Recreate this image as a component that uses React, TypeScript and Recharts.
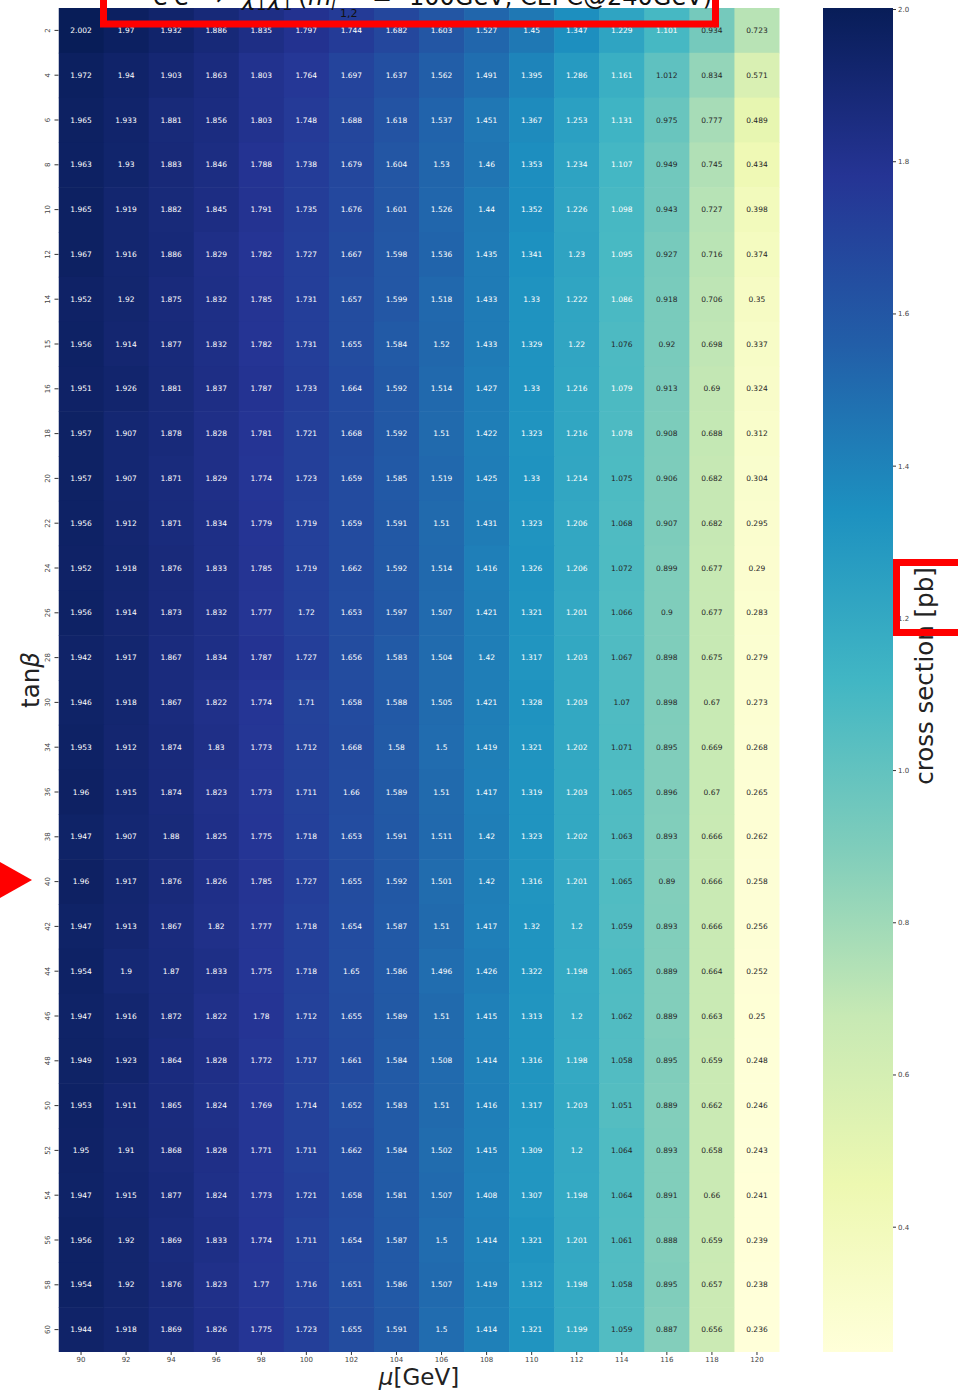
import React from 'react';
import { ScatterChart, Scatter, XAxis, YAxis, ComposedChart, ReferenceArea } from 'recharts';

// ---------- data ----------
const MU = [90, 92, 94, 96, 98, 100, 102, 104, 106, 108, 110, 112, 114, 116, 118, 120];
const TANB = [2, 4, 6, 8, 10, 12, 14, 15, 16, 18, 20, 22, 24, 26, 28, 30, 34, 36, 38, 40, 42, 44, 46, 48, 50, 52, 54, 56, 58, 60];
const XSEC: number[][] = [
  [2.002, 1.97, 1.932, 1.886, 1.835, 1.797, 1.744, 1.682, 1.603, 1.527, 1.45, 1.347, 1.229, 1.101, 0.934, 0.723],
  [1.972, 1.94, 1.903, 1.863, 1.803, 1.764, 1.697, 1.637, 1.562, 1.491, 1.395, 1.286, 1.161, 1.012, 0.834, 0.571],
  [1.965, 1.933, 1.881, 1.856, 1.803, 1.748, 1.688, 1.618, 1.537, 1.451, 1.367, 1.253, 1.131, 0.975, 0.777, 0.489],
  [1.963, 1.93, 1.883, 1.846, 1.788, 1.738, 1.679, 1.604, 1.53, 1.46, 1.353, 1.234, 1.107, 0.949, 0.745, 0.434],
  [1.965, 1.919, 1.882, 1.845, 1.791, 1.735, 1.676, 1.601, 1.526, 1.44, 1.352, 1.226, 1.098, 0.943, 0.727, 0.398],
  [1.967, 1.916, 1.886, 1.829, 1.782, 1.727, 1.667, 1.598, 1.536, 1.435, 1.341, 1.23, 1.095, 0.927, 0.716, 0.374],
  [1.952, 1.92, 1.875, 1.832, 1.785, 1.731, 1.657, 1.599, 1.518, 1.433, 1.33, 1.222, 1.086, 0.918, 0.706, 0.35],
  [1.956, 1.914, 1.877, 1.832, 1.782, 1.731, 1.655, 1.584, 1.52, 1.433, 1.329, 1.22, 1.076, 0.92, 0.698, 0.337],
  [1.951, 1.926, 1.881, 1.837, 1.787, 1.733, 1.664, 1.592, 1.514, 1.427, 1.33, 1.216, 1.079, 0.913, 0.69, 0.324],
  [1.957, 1.907, 1.878, 1.828, 1.781, 1.721, 1.668, 1.592, 1.51, 1.422, 1.323, 1.216, 1.078, 0.908, 0.688, 0.312],
  [1.957, 1.907, 1.871, 1.829, 1.774, 1.723, 1.659, 1.585, 1.519, 1.425, 1.33, 1.214, 1.075, 0.906, 0.682, 0.304],
  [1.956, 1.912, 1.871, 1.834, 1.779, 1.719, 1.659, 1.591, 1.51, 1.431, 1.323, 1.206, 1.068, 0.907, 0.682, 0.295],
  [1.952, 1.918, 1.876, 1.833, 1.785, 1.719, 1.662, 1.592, 1.514, 1.416, 1.326, 1.206, 1.072, 0.899, 0.677, 0.29],
  [1.956, 1.914, 1.873, 1.832, 1.777, 1.72, 1.653, 1.597, 1.507, 1.421, 1.321, 1.201, 1.066, 0.9, 0.677, 0.283],
  [1.942, 1.917, 1.867, 1.834, 1.787, 1.727, 1.656, 1.583, 1.504, 1.42, 1.317, 1.203, 1.067, 0.898, 0.675, 0.279],
  [1.946, 1.918, 1.867, 1.822, 1.774, 1.71, 1.658, 1.588, 1.505, 1.421, 1.328, 1.203, 1.07, 0.898, 0.67, 0.273],
  [1.953, 1.912, 1.874, 1.83, 1.773, 1.712, 1.668, 1.58, 1.5, 1.419, 1.321, 1.202, 1.071, 0.895, 0.669, 0.268],
  [1.96, 1.915, 1.874, 1.823, 1.773, 1.711, 1.66, 1.589, 1.51, 1.417, 1.319, 1.203, 1.065, 0.896, 0.67, 0.265],
  [1.947, 1.907, 1.88, 1.825, 1.775, 1.718, 1.653, 1.591, 1.511, 1.42, 1.323, 1.202, 1.063, 0.893, 0.666, 0.262],
  [1.96, 1.917, 1.876, 1.826, 1.785, 1.727, 1.655, 1.592, 1.501, 1.42, 1.316, 1.201, 1.065, 0.89, 0.666, 0.258],
  [1.947, 1.913, 1.867, 1.82, 1.777, 1.718, 1.654, 1.587, 1.51, 1.417, 1.32, 1.2, 1.059, 0.893, 0.666, 0.256],
  [1.954, 1.9, 1.87, 1.833, 1.775, 1.718, 1.65, 1.586, 1.496, 1.426, 1.322, 1.198, 1.065, 0.889, 0.664, 0.252],
  [1.947, 1.916, 1.872, 1.822, 1.78, 1.712, 1.655, 1.589, 1.51, 1.415, 1.313, 1.2, 1.062, 0.889, 0.663, 0.25],
  [1.949, 1.923, 1.864, 1.828, 1.772, 1.717, 1.661, 1.584, 1.508, 1.414, 1.316, 1.198, 1.058, 0.895, 0.659, 0.248],
  [1.953, 1.911, 1.865, 1.824, 1.769, 1.714, 1.652, 1.583, 1.51, 1.416, 1.317, 1.203, 1.051, 0.889, 0.662, 0.246],
  [1.95, 1.91, 1.868, 1.828, 1.771, 1.711, 1.662, 1.584, 1.502, 1.415, 1.309, 1.2, 1.064, 0.893, 0.658, 0.243],
  [1.947, 1.915, 1.877, 1.824, 1.773, 1.721, 1.658, 1.581, 1.507, 1.408, 1.307, 1.198, 1.064, 0.891, 0.66, 0.241],
  [1.956, 1.92, 1.869, 1.833, 1.774, 1.711, 1.654, 1.587, 1.5, 1.414, 1.321, 1.201, 1.061, 0.888, 0.659, 0.239],
  [1.954, 1.92, 1.876, 1.823, 1.77, 1.716, 1.651, 1.586, 1.507, 1.419, 1.312, 1.198, 1.058, 0.895, 0.657, 0.238],
  [1.944, 1.918, 1.869, 1.826, 1.775, 1.723, 1.655, 1.591, 1.5, 1.414, 1.321, 1.199, 1.059, 0.887, 0.656, 0.236],
];
const CB_TICKS = [0.4, 0.6, 0.8, 1.0, 1.2, 1.4, 1.6, 1.8, 2.0];

// ---------- styling / layout ----------
const W = 958;
const H = 1390;
const PLOT_L = 58.5;
const PLOT_R = 779.5;
const PLOT_T = 8;
const PLOT_B = 1352;
const CELL_W = (PLOT_R - PLOT_L) / MU.length;
const CELL_H = (PLOT_B - PLOT_T) / TANB.length;
const FONT = "'DejaVu Sans', sans-serif";
const LABEL_SIZE = 24.5;

const VMIN = Math.min(...XSEC.flat());
const VMAX = Math.max(...XSEC.flat());

const YLGNBU = ['#ffffd9', '#edf8b1', '#c7e9b4', '#7fcdbb', '#41b6c4', '#1d91c0', '#225ea8', '#253494', '#081d58'];

function hexToRgb(h: string): number[] {
  const n = parseInt(h.slice(1), 16);
  return [(n >> 16) & 255, (n >> 8) & 255, n & 255];
}

function colorFor(v: number): string {
  let t = (v - VMIN) / (VMAX - VMIN);
  t = Math.max(0, Math.min(1, t));
  const s = t * (YLGNBU.length - 1);
  const i = Math.min(Math.floor(s), YLGNBU.length - 2);
  const f = s - i;
  const a = hexToRgb(YLGNBU[i]);
  const b = hexToRgb(YLGNBU[i + 1]);
  const c = a.map((x, k) => Math.round(x + (b[k] - x) * f));
  return `rgb(${c[0]},${c[1]},${c[2]})`;
}

const CELLS = XSEC.flatMap((row, r) => row.map((v, c) => ({ xi: c, yi: r, v })));

const HeatCell = (props: any) => {
  const { cx, cy, payload } = props;
  if (cx == null || cy == null || !payload) return null;
  const v = payload.v as number;
  return (
    <g>
      <rect
        x={cx - CELL_W / 2}
        y={cy - CELL_H / 2}
        width={CELL_W + 0.6}
        height={CELL_H + 0.6}
        fill={colorFor(v)}
        stroke="none"
      />
      <text
        x={cx}
        y={cy}
        dy="0.35em"
        textAnchor="middle"
        fontSize={7.5}
        fontFamily={FONT}
        fill={v < 1.077 ? '#262626' : '#ffffff'}
      >
        {String(v)}
      </text>
    </g>
  );
};

const YTick = (props: any) => {
  const { x, y, payload } = props;
  const cxp = x - 4.5;
  return (
    <text
      x={cxp}
      y={y}
      dy="0.35em"
      textAnchor="middle"
      fontSize={7}
      fontFamily={FONT}
      fill="#444"
      transform={`rotate(-90 ${cxp} ${y})`}
    >
      {String(TANB[payload.value])}
    </text>
  );
};

const XLabel = (props: any) => {
  const vb = props.viewBox || { x: PLOT_L, y: PLOT_B, width: PLOT_R - PLOT_L, height: H - PLOT_B };
  const cx = vb.x + vb.width / 2;
  return (
    <text x={cx} y={vb.y + 33} textAnchor="middle" fontSize={23} fontFamily={FONT} fill="#222">
      <tspan fontStyle="italic">μ</tspan>
      <tspan>[GeV]</tspan>
    </text>
  );
};

const YLabel = (props: any) => {
  const vb = props.viewBox || { x: 0, y: PLOT_T, width: PLOT_L, height: PLOT_B - PLOT_T };
  const cx = 30;
  const cy = vb.y + vb.height / 2;
  return (
    <text
      x={cx}
      y={cy}
      dy="0.35em"
      textAnchor="middle"
      fontSize={LABEL_SIZE}
      fontFamily={FONT}
      fill="#222"
      transform={`rotate(-90 ${cx} ${cy})`}
    >
      <tspan>tan</tspan>
      <tspan fontStyle="italic">β</tspan>
    </text>
  );
};

const CbLabel = (props: any) => {
  const vb = props.viewBox || { x: 70, y: PLOT_T, width: 65, height: PLOT_B - PLOT_T };
  const cx = vb.x + 31;
  const cy = vb.y + vb.height / 2 - 4;
  return (
    <text
      x={cx}
      y={cy}
      dy="0.35em"
      textAnchor="middle"
      fontSize={LABEL_SIZE}
      fontFamily={FONT}
      fill="#222"
      transform={`rotate(-90 ${cx} ${cy})`}
    >
      cross section [pb]
    </text>
  );
};

const CB_DATA = [{ x: 0, y: VMIN }, { x: 1, y: VMAX }];

export default function App() {
  return (
    <div style={{ position: 'absolute', left: 0, top: 0, width: W, height: H, background: '#fff', overflow: 'hidden' }}>
      {/* heatmap */}
      <div style={{ position: 'absolute', left: 0, top: 0 }}>
        <ScatterChart
          width={W}
          height={H}
          margin={{ top: PLOT_T, right: W - PLOT_R, bottom: 0, left: 0 }}
        >
          <XAxis
            type="number"
            dataKey="xi"
            domain={[-0.5, MU.length - 0.5]}
            ticks={MU.map((_, i) => i)}
            tickFormatter={(i: number) => String(MU[i])}
            interval={0}
            height={H - PLOT_B}
            axisLine={false}
            tickLine={{ stroke: '#333' }}
            tickSize={3}
            tickMargin={2}
            tick={{ fontSize: 7, fill: '#444', fontFamily: FONT }}
            allowDataOverflow
            label={<XLabel />}
          />
          <YAxis
            type="number"
            dataKey="yi"
            domain={[-0.5, TANB.length - 0.5]}
            reversed
            ticks={TANB.map((_, i) => i)}
            interval={0}
            width={PLOT_L}
            axisLine={false}
            tickLine={{ stroke: '#333' }}
            tickSize={4}
            tickMargin={2}
            tick={<YTick />}
            allowDataOverflow
            label={<YLabel />}
          />
          <Scatter data={CELLS} shape={HeatCell} isAnimationActive={false} />
        </ScatterChart>
      </div>

      {/* colorbar */}
      <div style={{ position: 'absolute', left: 823, top: 0 }}>
        <ComposedChart
          width={135}
          height={H}
          data={CB_DATA}
          margin={{ top: PLOT_T, right: 0, bottom: H - PLOT_B, left: 0 }}
        >
          <defs>
            <linearGradient id="cbGrad" x1="0" y1="0" x2="0" y2="1">
              {YLGNBU.slice().reverse().map((c, i) => (
                <stop key={i} offset={i / (YLGNBU.length - 1)} stopColor={c} />
              ))}
            </linearGradient>
          </defs>
          <XAxis type="number" dataKey="x" domain={[0, 1]} hide />
          <YAxis
            type="number"
            dataKey="y"
            orientation="right"
            domain={[VMIN, VMAX]}
            ticks={CB_TICKS}
            interval={0}
            width={65}
            axisLine={false}
            tickLine={{ stroke: '#333' }}
            tickSize={3}
            tickMargin={2}
            tick={{ fontSize: 7, fill: '#444', fontFamily: FONT }}
            tickFormatter={(v: number) => v.toFixed(1)}
            allowDataOverflow
            label={<CbLabel />}
          />
          <ReferenceArea
            x1={0}
            x2={1}
            y1={VMIN}
            y2={VMAX}
            fill="url(#cbGrad)"
            fillOpacity={1}
            stroke="none"
            ifOverflow="extendDomain"
          />
        </ComposedChart>
      </div>

      {/* title (mostly cut off at the top) and red annotations */}
      <svg width={W} height={H} style={{ position: 'absolute', left: 0, top: 0, pointerEvents: 'none' }}>
        <g fontFamily={FONT} fill="#111">
          <text x={153} y={5} fontSize={24}>e</text>
          <text x={167} y={-5} fontSize={16}>+</text>
          <text x={174} y={5} fontSize={24}>e</text>
          <text x={188} y={-5} fontSize={16}>−</text>
          <text x={204} y={5} fontSize={24}>→</text>
          <text x={242} y={5} fontSize={24} fontStyle="italic">χ̃</text>
          <text x={256} y={10} fontSize={16}>1</text>
          <text x={256} y={-7} fontSize={16}>+</text>
          <text x={268} y={5} fontSize={24} fontStyle="italic">χ̃</text>
          <text x={282} y={10} fontSize={16}>1</text>
          <text x={282} y={-7} fontSize={16}>−</text>
          <text x={298} y={5} fontSize={24}>(</text>
          <text x={308} y={5} fontSize={24} fontStyle="italic">m</text>
          <text x={331} y={10} fontSize={16} fontStyle="italic">l̃</text>
          <text x={340} y={17} fontSize={11}>1,2</text>
          <text x={372} y={5} fontSize={24}>=</text>
          <text x={712} y={5} fontSize={24} textAnchor="end">100GeV, CEPC@240GeV)</text>
        </g>
        <rect x={103.5} y={-30} width={612} height={54} fill="none" stroke="#ff0000" strokeWidth={7} />
        <rect x={896.5} y={562.5} width={100} height={70} fill="none" stroke="#ff0000" strokeWidth={7} />
        <polygon points="0,862 32,880 0,898" fill="#ff0000" />
      </svg>
    </div>
  );
}
